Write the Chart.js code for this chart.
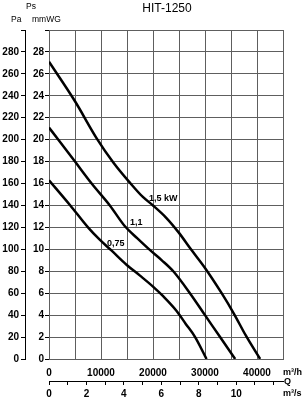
<!DOCTYPE html>
<html lang="en">
<head>
    <meta charset="UTF-8">
    <title>HIT-1250</title>
    <script src="https://cdn.jsdelivr.net/npm/chart.js"></script>
    <style>
        html, body { margin: 0; padding: 0; background: #fff; }
        #wrap { width: 307px; height: 400px; position: relative; }
    </style>
</head>
<body>
    <div id="wrap"><canvas id="fanChart" width="307" height="400"></canvas></div>
    <script>
        // Flow in m3/h, static pressure in mmWG
        const q15 = [0, 5000, 9200, 12400, 15700, 18000, 20000, 22500, 25000, 27300, 30000, 33200, 35600, 37900, 40600];
        const p15 = [27.1, 23.5, 20.1, 17.9, 16, 14.8, 14.0, 12.9, 11.5, 10, 8.3, 6, 4.1, 2.1, 0];
        const q11 = [0, 1800, 5000, 8200, 11700, 14600, 17000, 19500, 21700, 23900, 27100, 30000, 32900, 35800];
        const p11 = [21.1, 20, 18, 16, 14, 12.1, 11, 9.9, 9.0, 8, 6, 4, 2, 0];
        const q075 = [0, 4100, 7500, 9700, 12000, 14900, 17500, 20000, 22000, 24500, 26300, 28100, 30300];
        const p075 = [16.3, 14, 12, 10.9, 9.9, 8.6, 7.6, 6.6, 5.7, 4.4, 3.2, 2, 0];

        const curveNames = ['1,5 kW', '1,1', '0,75'];
        const nameQ = [19230, 15580, 11150];
        const nameP = [14.6, 12.45, 10.5];

        const xTicksM3h = [0, 10000, 20000, 30000, 40000];
        const xTicksM3s = [0, 2, 4, 6, 8, 10];

        function pts(q, p) {
            return q.map((v, i) => ({ x: v, y: p[i] }));
        }

        Chart.defaults.font.family = '"Liberation Sans", Arial, sans-serif';
        Chart.defaults.color = '#000';

        const tickFont = { size: 10, weight: 'bold' };
        const gridColor = '#5e5e5e';

        const textPlugin = {
            id: 'texts',
            afterDraw(chart) {
                const ctx = chart.ctx;
                const xs = chart.scales.x, ys = chart.scales.y;
                ctx.save();
                ctx.fillStyle = '#000';
                ctx.textBaseline = 'middle';

                ctx.font = '12px "Liberation Sans", Arial, sans-serif';
                ctx.textAlign = 'center';
                ctx.fillText('HIT-1250', 167, 9);

                ctx.font = '8.5px "Liberation Sans", Arial, sans-serif';
                ctx.textAlign = 'left';
                ctx.fillText('Ps', 26, 7);
                ctx.fillText('Pa', 11, 20);
                ctx.fillText('mmWG', 32, 20);

                ctx.font = 'bold 9px "Liberation Sans", Arial, sans-serif';
                ctx.fillText('m³/h', 283, 373);
                ctx.fillText('Q', 284, 382);
                ctx.fillText('m³/s', 283, 394);

                curveNames.forEach((name, i) => {
                    ctx.fillText(name, xs.getPixelForValue(nameQ[i]), ys.getPixelForValue(nameP[i]));
                });
                ctx.restore();
            }
        };

        const lineStyle = {
            showLine: true,
            borderColor: '#000',
            borderWidth: 2.5,
            pointRadius: 0,
            fill: false,
            cubicInterpolationMode: 'monotone',
            xAxisID: 'x',
            yAxisID: 'y'
        };

        new Chart(document.getElementById('fanChart').getContext('2d'), {
            type: 'scatter',
            data: {
                datasets: [
                    Object.assign({ label: curveNames[0], data: pts(q15, p15) }, lineStyle),
                    Object.assign({ label: curveNames[1], data: pts(q11, p11) }, lineStyle),
                    Object.assign({ label: curveNames[2], data: pts(q075, p075) }, lineStyle)
                ]
            },
            options: {
                responsive: false,
                animation: false,
                layout: { padding: { left: 2, right: 24, top: 30, bottom: 0 } },
                plugins: {
                    legend: { display: false },
                    tooltip: { enabled: false }
                },
                scales: {
                    x: {
                        type: 'linear',
                        position: 'bottom',
                        weight: 0,
                        min: 0,
                        max: 45000,
                        afterFit: s => { s.height = 22; },
                        border: { display: true, color: gridColor },
                        grid: { color: gridColor, lineWidth: 1, drawTicks: false },
                        ticks: {
                            stepSize: 5000,
                            padding: 8,
                            maxRotation: 0,
                            autoSkip: false,
                            font: tickFont,
                            callback: v => xTicksM3h.includes(v) ? String(v) : ''
                        }
                    },
                    x2: {
                        type: 'linear',
                        position: 'bottom',
                        weight: 1,
                        min: 0,
                        max: 12.5,
                        afterFit: s => { s.height = 19; },
                        border: { display: true, color: '#000', width: 1 },
                        grid: { drawOnChartArea: false, drawTicks: true, tickLength: 4, color: '#000' },
                        ticks: {
                            stepSize: 1,
                            includeBounds: false,
                            padding: 3,
                            maxRotation: 0,
                            autoSkip: false,
                            font: tickFont,
                            callback: v => xTicksM3s.includes(v) ? String(v) : ''
                        }
                    },
                    y: {
                        type: 'linear',
                        position: 'left',
                        weight: 0,
                        min: 0,
                        max: 30,
                        afterFit: s => { s.width = 24; },
                        border: { display: true, color: gridColor },
                        grid: { color: gridColor, lineWidth: 1, drawTicks: true, tickLength: 4, tickColor: '#000' },
                        ticks: {
                            stepSize: 2,
                            padding: 1,
                            font: tickFont,
                            callback: v => v < 30 ? String(v) : ''
                        }
                    },
                    yPa: {
                        type: 'linear',
                        position: 'left',
                        weight: 1,
                        min: 0,
                        max: 300,
                        afterFit: s => { s.width = 23; },
                        border: { display: true, color: '#000' },
                        grid: { drawOnChartArea: false, drawTicks: true, tickLength: 4, color: '#000' },
                        ticks: {
                            stepSize: 20,
                            padding: 2,
                            font: tickFont,
                            callback: v => v < 300 ? String(v) : ''
                        }
                    }
                }
            },
            plugins: [textPlugin]
        });
    </script>
</body>
</html>
